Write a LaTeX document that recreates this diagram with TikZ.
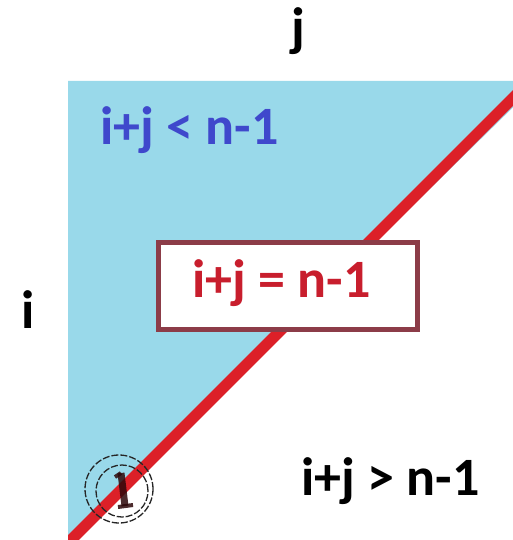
\documentclass[tikz,border=0pt]{standalone}
\usepackage{fontspec}
\setmainfont{Carlito}
\definecolor{skyfill}{RGB}{153,217,234}
\definecolor{diagred}{RGB}{220,32,40}
\definecolor{lblblue}{RGB}{63,72,204}
\definecolor{lblred}{RGB}{200,30,45}
\definecolor{boxedge}{RGB}{140,60,72}
\definecolor{glyphdark}{RGB}{45,8,10}
\begin{document}
\begin{tikzpicture}[x=1pt,y=-1pt,
  lbl/.style={font=\fontsize{54}{60}\selectfont\bfseries, inner sep=0pt, anchor=base},
  ring/.style={circle, draw=black!85, line width=1.3pt, dash pattern=on 7pt off 2pt, inner sep=0pt},
  eqframe/.style={draw=boxedge, line width=5pt, fill=white, inner sep=0pt, minimum width=259pt, minimum height=87pt}
]
\useasboundingbox (0,0) rectangle (513,540);
\fill[white] (0,0) rectangle (513,540);
\begin{scope}
  \clip (68,81) rectangle (513,540);
  \fill[skyfill] (68,81) -- (540,81) -- (68,543) -- cycle;
  \draw[diagred, line width=11pt] (40,571) -- (545,66);
\end{scope}
% corner marker
\node[ring, minimum size=68pt] (outerring) at (119,489) {};
\node[ring, minimum size=52pt] (innerring) at (122,491) {};
\coordinate (gtop) at (121,473);
\coordinate (gbot) at (125,506);
\draw[glyphdark, line width=7pt, opacity=0.85] (gtop) -- (gbot);
\draw[glyphdark, line width=4pt, opacity=0.85] (gtop) -- ++(-6,4);
\draw[glyphdark, line width=4pt, opacity=0.85] (gbot) ++(-7,1) -- ++(15,-2);
% equation box
\node[eqframe] (eqbox) at (288,286) {};
\node[lbl, text=lblred] (eqlbl) at (281.5,297) {i+j = n-1};
% labels
\node[lbl, text=black] (jlbl) at (298,46) {j};
\node[lbl, text=black] (ilbl) at (28.5,328) {i};
\node[lbl, text=lblblue] (ltlbl) at (189.5,145) {i+j < n-1};
\node[lbl, text=black] (gtlbl) at (390.5,495) {i+j > n-1};
\end{tikzpicture}
\end{document}
